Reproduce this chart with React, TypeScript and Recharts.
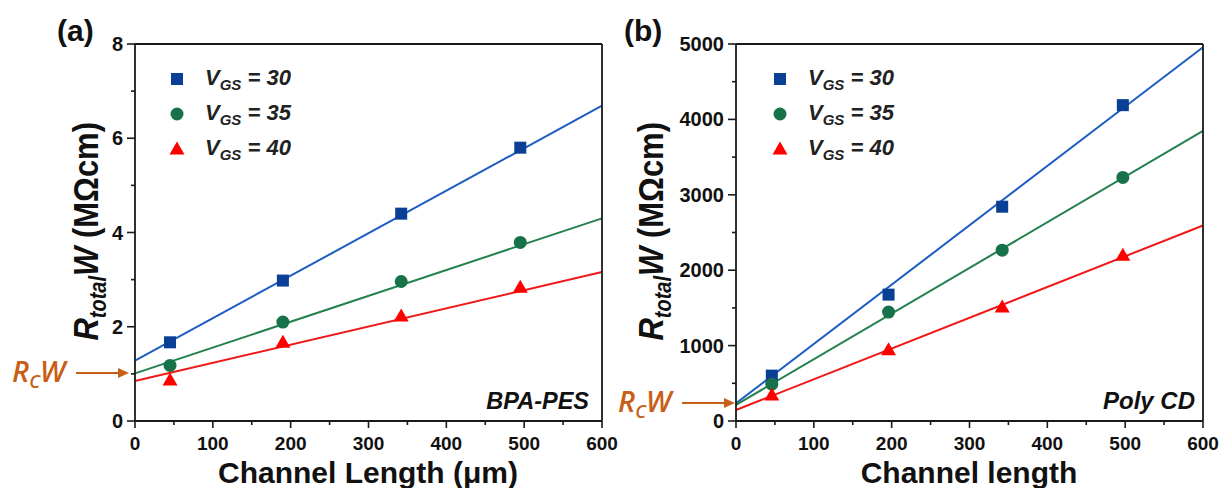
import React from "react"
import { ComposedChart, Scatter, Line, XAxis, YAxis, Legend } from "recharts"

// channel lengths (µm) of the measured devices
const lengthA = [45, 190, 342, 495]
const lengthB = [46, 196, 342, 497]

// (a) BPA-PES, R_total*W in MΩcm
const bpaVgs30 = [1.67, 2.98, 4.4, 5.8]
const bpaVgs35 = [1.18, 2.1, 2.96, 3.79]
const bpaVgs40 = [0.87, 1.67, 2.23, 2.84]

// (b) Poly CD
const polyVgs30 = [602, 1676, 2842, 4189]
const polyVgs35 = [488, 1445, 2265, 3231]
const polyVgs40 = [346, 944, 1512, 2198]

// linear fits, value read at L = 0 and L = 600
const fitEnds = [0, 600]
const bpaFit30 = [1.28, 6.69]
const bpaFit35 = [1.01, 4.3]
const bpaFit40 = [0.85, 3.16]
const polyFit30 = [235, 4956]
const polyFit35 = [213, 3847]
const polyFit40 = [146, 2593]

const vgsLabels = ["30", "35", "40"]
const xTicks = [0, 50, 100, 150, 200, 250, 300, 350, 400, 450, 500, 550, 600]
const bpaTicks = [0, 1, 2, 3, 4, 5, 6, 7, 8]
const polyTicks = [0, 500, 1000, 1500, 2000, 2500, 3000, 3500, 4000, 4500, 5000]

const FONT = "'Liberation Sans', Arial, sans-serif"
const ORANGE = "#c95f17"
const STYLES = [
	{ kind: "square", marker: "#0b3f96", line: "#1d5cc2" },
	{ kind: "circle", marker: "#17724a", line: "#23804f" },
	{ kind: "triangle", marker: "#ff0000", line: "#f01818" }
]
const AXIS = { stroke: "#1a1a1a", strokeWidth: 1.8 }

const pts = (xs: number[], ys: number[]) => xs.map((x, i) => ({ x, y: ys[i] }))

function Marker({ kind, cx, cy, color }: any) {
	if (kind === "square") return <rect x={cx - 6} y={cy - 6} width={12} height={12} fill={color} />
	if (kind === "circle") return <circle cx={cx} cy={cy} r={6.5} fill={color} />
	return <polygon points={`${cx},${cy - 7.5} ${cx + 7.5},${cy + 5.5} ${cx - 7.5},${cy + 5.5}`} fill={color} />
}

const tickText = { fontSize: 19, fontWeight: 700, fontFamily: FONT, fill: "#111" }

function bottomTick(step: number) {
	return (p: any) => {
		const v = p.payload.value
		const major = v % step === 0
		return (
			<g>
				<line x1={p.x} y1={p.y} x2={p.x} y2={p.y + (major ? 7 : 4)} stroke="#1a1a1a" strokeWidth={1.6} />
				{major && <text x={p.x} y={p.y + 29} textAnchor="middle" {...tickText}>{v}</text>}
			</g>
		)
	}
}

function topTick(step: number) {
	return (p: any) => {
		const major = p.payload.value % step === 0
		return <line x1={p.x} y1={p.y} x2={p.x} y2={p.y + (major ? 7 : 4)} stroke="#1a1a1a" strokeWidth={1.6} />
	}
}

function leftTick(step: number) {
	return (p: any) => {
		const v = p.payload.value
		const major = v % step === 0
		return (
			<g>
				<line x1={p.x} y1={p.y} x2={p.x - (major ? 8 : 4)} y2={p.y} stroke="#1a1a1a" strokeWidth={1.6} />
				{major && <text x={p.x - 12} y={p.y + 7} textAnchor="end" {...tickText} fontSize={20}>{v}</text>}
			</g>
		)
	}
}

function rightTick(step: number) {
	return (p: any) => {
		const major = p.payload.value % step === 0
		return <line x1={p.x} y1={p.y} x2={p.x - (major ? 7 : 4)} y2={p.y} stroke="#1a1a1a" strokeWidth={1.6} />
	}
}

function LegendBox() {
	return (
		<div style={{ fontFamily: FONT, fontWeight: 700, fontStyle: "italic", fontSize: 22, color: "#222" }}>
			{STYLES.map((s, i) => (
				<div key={i} style={{ display: "flex", alignItems: "center", height: 35 }}>
					<svg width={24} height={24} style={{ marginRight: 16 }}>
						<Marker kind={s.kind} cx={12} cy={12} color={s.marker} />
					</svg>
					<span>
						V<sub style={{ fontSize: 15, verticalAlign: -5 }}>GS</sub> = {vgsLabels[i]}
					</span>
				</div>
			))}
		</div>
	)
}

function Panel({ left, width, margin, yDomain, yTicks, yStep, xs, series, fits, legendLeft }: any) {
	return (
		<div style={{ position: "absolute", left, top: 0 }}>
			<ComposedChart width={width} height={488} margin={margin}>
				<XAxis xAxisId="b" type="number" dataKey="x" domain={[0, 600]} ticks={xTicks} interval={0}
					height={30} tickSize={0} tickMargin={0} tickLine={false} axisLine={AXIS} tick={bottomTick(100)} />
				<XAxis xAxisId="t" orientation="top" mirror type="number" dataKey="x" domain={[0, 600]} ticks={xTicks}
					interval={0} height={1} tickSize={0} tickMargin={0} tickLine={false} axisLine={AXIS} tick={topTick(100)} />
				<YAxis yAxisId="l" type="number" dataKey="y" domain={yDomain} ticks={yTicks} interval={0}
					width={60} tickSize={0} tickMargin={0} tickLine={false} axisLine={AXIS} tick={leftTick(yStep)} />
				<YAxis yAxisId="r" orientation="right" mirror type="number" dataKey="y" domain={yDomain} ticks={yTicks}
					interval={0} width={1} tickSize={0} tickMargin={0} tickLine={false} axisLine={AXIS} tick={rightTick(yStep)} />
				{fits.map((f: number[], i: number) => (
					<Line key={"f" + i} xAxisId="b" yAxisId="l" data={pts(fitEnds, f)} dataKey="y" type="linear"
						stroke={STYLES[i].line} strokeWidth={2} dot={false} activeDot={false} isAnimationActive={false} legendType="none" />
				))}
				{series.map((s: number[], i: number) => (
					<Scatter key={"s" + i} xAxisId="b" yAxisId="l" data={pts(xs, s)} isAnimationActive={false}
						shape={(p: any) => <Marker kind={STYLES[i].kind} cx={p.cx} cy={p.cy} color={STYLES[i].marker} />} />
				))}
				<Legend layout="vertical" align="center" verticalAlign="middle" content={() => <LegendBox />}
					wrapperStyle={{ left: legendLeft, top: 61, width: "auto", height: "auto" }} />
			</ComposedChart>
		</div>
	)
}

function YTitle({ x }: { x: number }) {
	return (
		<text transform={`rotate(-90 ${x} 122) translate(${x} 122) scale(1 1.15) translate(${-x} -122)`} x={x} y={122}
			textAnchor="end" fontFamily={FONT} fontWeight={700} fontSize={31} fill="#111">
			<tspan fontStyle="italic">R</tspan>
			<tspan fontStyle="italic" fontSize={20} dy={7}>total</tspan>
			<tspan fontStyle="italic" dy={-7}>W</tspan>
			<tspan> (MΩcm)</tspan>
		</text>
	)
}

function RcArrow({ x, y }: { x: number; y: number }) {
	return (
		<g>
			<text x={x} y={y + 9} fontFamily="'Open Sans', sans-serif" fontStyle="italic" fontWeight={600} fontSize={29} fill={ORANGE}>
				R<tspan fontSize={18} dy={6}>C</tspan><tspan dy={-6}>W</tspan>
			</text>
			<line x1={x + 64} y1={y} x2={x + 108} y2={y} stroke={ORANGE} strokeWidth={2.2} />
			<polygon points={`${x + 117},${y} ${x + 106},${y - 5} ${x + 106},${y + 5}`} fill={ORANGE} />
		</g>
	)
}

export default function App() {
	return (
		<div style={{ position: "absolute", left: 0, top: 0, width: 1223, height: 488, background: "#fff" }}>
			<Panel left={0} width={640} margin={{ top: 44, right: 38, bottom: 37, left: 75 }}
				yDomain={[0, 8]} yTicks={bpaTicks} yStep={2} xs={lengthA}
				series={[bpaVgs30, bpaVgs35, bpaVgs40]} fits={[bpaFit30, bpaFit35, bpaFit40]} legendLeft={165} />
			<Panel left={612} width={611} margin={{ top: 44, right: 20, bottom: 37, left: 64 }}
				yDomain={[0, 5000]} yTicks={polyTicks} yStep={1000} xs={lengthB}
				series={[polyVgs30, polyVgs35, polyVgs40]} fits={[polyFit30, polyFit35, polyFit40]} legendLeft={156} />
			<svg width={1223} height={488} style={{ position: "absolute", left: 0, top: 0, pointerEvents: "none" }}>
				<text x={57} y={41} fontFamily={FONT} fontWeight={700} fontSize={30} fill="#111">(a)</text>
				<text x={624} y={41} fontFamily={FONT} fontWeight={700} fontSize={30} fill="#111">(b)</text>
				<YTitle x={98} />
				<YTitle x={663} />
				<text x={368} y={483} textAnchor="middle" fontFamily={FONT} fontWeight={700} fontSize={30} fill="#111">Channel Length (μm)</text>
				<text x={969} y={483} textAnchor="middle" fontFamily={FONT} fontWeight={700} fontSize={30} fill="#111">Channel length</text>
				<text x={589} y={409} textAnchor="end" fontFamily={FONT} fontWeight={700} fontStyle="italic" fontSize={23.5} fill="#111">BPA-PES</text>
				<text x={1195} y={409} textAnchor="end" fontFamily={FONT} fontWeight={700} fontStyle="italic" fontSize={24} fill="#111">Poly CD</text>
				<RcArrow x={12} y={373} />
				<RcArrow x={618} y={403} />
			</svg>
		</div>
	)
}
